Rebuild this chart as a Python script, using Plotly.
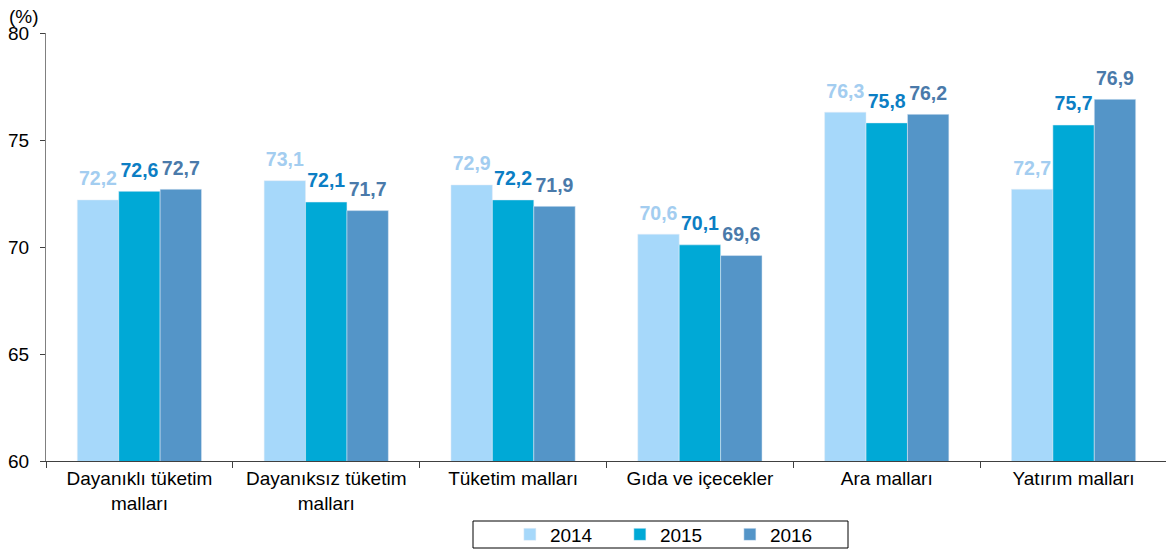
import plotly.graph_objects as go

categories = ["Dayanıklı tüketim<br>malları", "Dayanıksız tüketim<br>malları", "Tüketim malları",
              "Gıda ve içecekler", "Ara malları", "Yatırım malları"]
years = ["2014", "2015", "2016"]
v2014 = [72.2, 73.1, 72.9, 70.6, 76.3, 72.7]
v2015 = [72.6, 72.1, 72.2, 70.1, 75.8, 75.7]
v2016 = [72.7, 71.7, 71.9, 69.6, 76.2, 76.9]

bar_colors = ["#A6D8FA", "#00A9D6", "#5495C8"]
label_colors = ["#A3CDF0", "#0B7EC4", "#4A7AAA"]
FONT = "Liberation Sans, Arial"

# page body has an 8px margin: figure is drawn at (8, 8)
OFF = 8
fig = go.Figure()
for name, vals, bc in zip(years, [v2014, v2015, v2016], bar_colors):
    fig.add_trace(go.Bar(x=categories, y=vals, name=name, marker_color=bc,
                         hoverinfo="x+y"))
for name, vals, lc in zip(years, [v2014, v2015, v2016], label_colors):
    fig.add_trace(go.Scatter(
        x=categories, y=vals, name=name, mode="markers+text", showlegend=False,
        marker=dict(size=14, color="rgba(0,0,0,0)"), hoverinfo="skip",
        text=[f"<b>{v:.1f}</b>".replace(".", ",") for v in vals],
        textposition="top center", cliponaxis=False,
        textfont=dict(color=lc, size=19.5, family=FONT),
    ))

fig.update_layout(
    width=1174 - OFF, height=550 - OFF,
    margin=dict(l=46 - OFF, r=7, t=33 - OFF, b=89, autoexpand=False),
    plot_bgcolor="white", paper_bgcolor="white",
    barmode="group", bargap=0.335, bargroupgap=0,
    scattermode="group", scattergap=0.335,
    font=dict(family=FONT, size=19, color="black"),
    showlegend=True,
    legend=dict(orientation="h", x=0.561, xanchor="center",
                y=-(534.5 - 461) / 428, yanchor="middle",
                borderwidth=0, bgcolor="rgba(0,0,0,0)", font=dict(size=19),
                entrywidth=65, itemwidth=30, tracegroupgap=0),
    shapes=[dict(type="rect", xref="paper", yref="paper",
                 x0=(473 - 46) / 1121, x1=(848 - 46) / 1121,
                 y0=-(548 - 461) / 428, y1=-(521 - 461) / 428,
                 line=dict(color="black", width=1), fillcolor="rgba(0,0,0,0)")],
    annotations=[dict(text="(%)", x=0, xref="paper", xanchor="left", xshift=-39,
                      y=1, yref="paper", yanchor="bottom", yshift=4, showarrow=False,
                      font=dict(size=19))],
)
fig.update_xaxes(showline=True, linecolor="#404040", linewidth=1, ticks="outside",
                 tickson="boundaries", ticklen=6, tickcolor="#404040", showgrid=False,
                 tickfont=dict(size=19), automargin=False)
fig.update_yaxes(range=[60, 80], dtick=5, showline=True, linecolor="#808080", linewidth=1,
                 ticks="outside", ticklen=5, tickcolor="#404040", showgrid=False,
                 zeroline=False, tickfont=dict(size=19), automargin=False,
                 ticklabelstandoff=7)

fig.write_html("out.html")
